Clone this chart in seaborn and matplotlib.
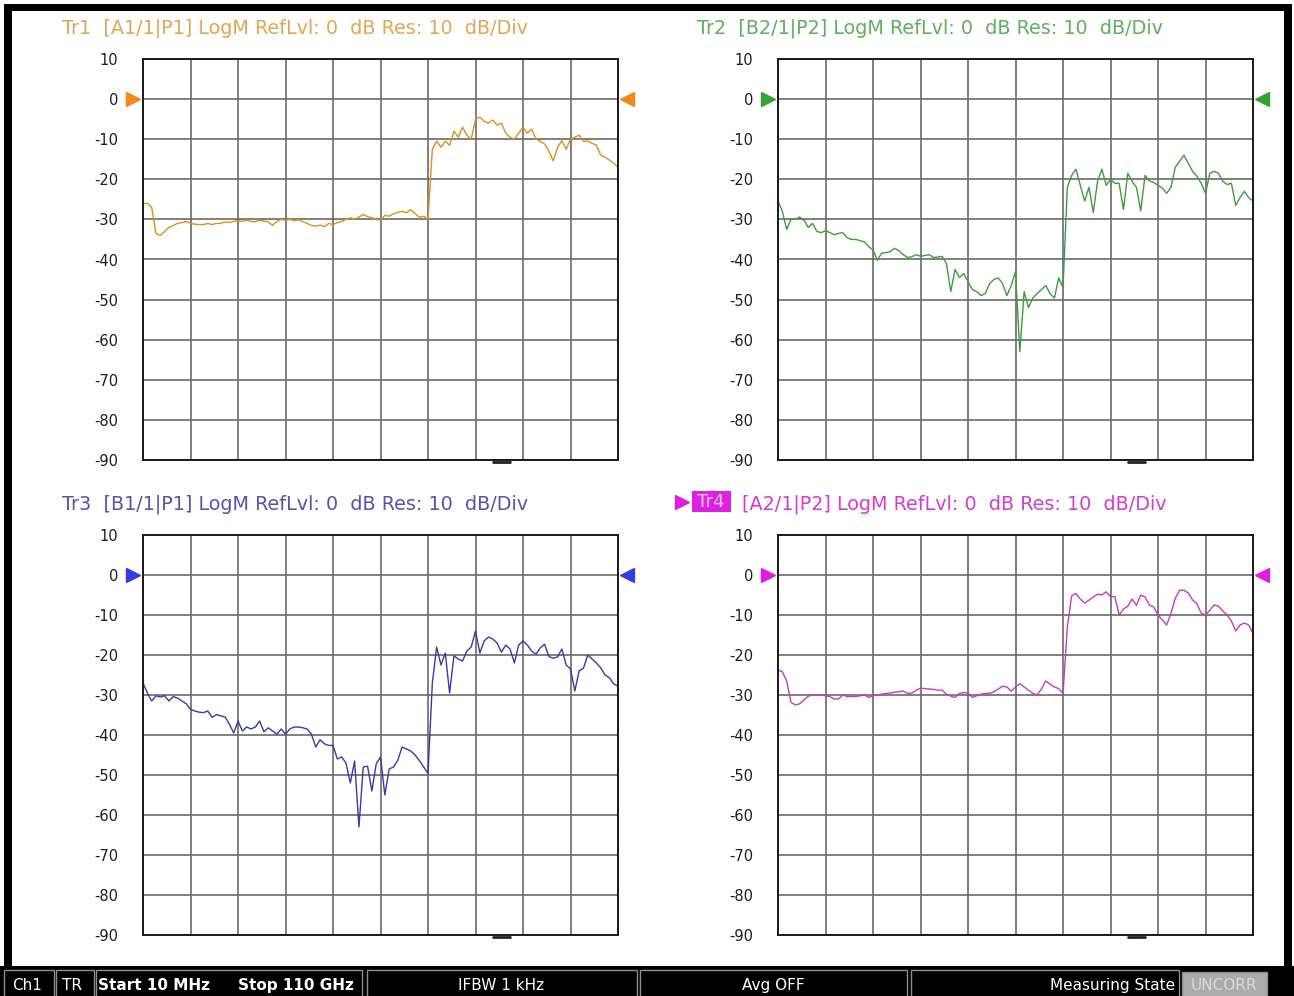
"""VNA four-trace screen (LogM, 10 dB/div) redrawn with seaborn."""

import numpy as np
import pandas as pd
import seaborn as sns
import matplotlib.pyplot as plt
from matplotlib.patches import Rectangle
from matplotlib.transforms import blended_transform_factory

W, H = 1294, 996

# sweep 10 MHz .. 110 GHz, values every ~1 GHz
freq_ghz = np.linspace(0.01, 110, 111)

tr1_db = [-26, -26, -27, -33.5, -34, -33, -32, -31.5, -31, -30.8,
          -30.5, -31, -31.2, -31.3, -31.3, -31.0, -31.3, -31, -31, -30.6,
          -30.8, -30.5, -30.3, -30.5, -30.2, -30.5, -30.6, -30.2, -30.4, -30.6,
          -31.5, -30.5, -30, -30.2, -30, -30.3, -30.1, -30.6, -31, -31.5,
          -31.7, -31.4, -31.8, -31, -31.3, -30.8, -30.5, -30, -29.6, -30,
          -29.4, -28.8, -29.3, -29.6, -30, -30.2, -29, -29.2, -28.6, -28.2,
          -28, -28.3, -27.6, -28.5, -29.5, -29.2, -30, -12.5, -10.5, -12,
          -10.5, -11.5, -8, -9.5, -7, -9, -10, -5, -4.5, -5.5,
          -6, -5.2, -6.5, -6, -8.5, -9.5, -10, -8.5, -7, -8.5,
          -7.5, -10, -10.5, -11.2, -13, -15.4, -12, -10.4, -12.5, -10,
          -9.5, -9, -10.5, -10.5, -11, -11.5, -14, -14.5, -15.2, -16,
          -17]

tr2_db = [-25.4, -28, -32.5, -30, -30, -29.4, -30.2, -32, -31, -33,
          -33.3, -32.8, -33.3, -33.8, -33.5, -33.3, -34.6, -35, -35, -35.3,
          -35.6, -36.8, -37.6, -40.2, -38.4, -38.3, -38, -37.2, -37.8, -38.8,
          -39.5, -39.3, -38.8, -39.2, -39, -38.8, -39.5, -39.4, -39.2, -41,
          -48, -42.5, -44.5, -43.5, -45.5, -47.5, -48, -49, -48.5, -46,
          -45, -44.6, -46, -49, -46.5, -43, -63, -48, -52, -49.6,
          -48.5, -47.5, -46.5, -48.5, -49.6, -44.6, -47, -22, -19, -17.5,
          -21.5, -25.4, -22, -28.3, -20.5, -17.5, -21.5, -20, -21, -21,
          -27.5, -18.5, -20.5, -22, -27.9, -19, -20.4, -20.8, -21.5, -22.2,
          -23.5, -22, -17, -15.5, -14, -16, -18, -19.2, -21, -23.5,
          -18.5, -18, -18.5, -20.5, -21.3, -21, -26.5, -24.5, -23, -24.6,
          -25.4]

tr3_db = [-27, -29.5, -31.5, -30.2, -30.5, -30.2, -31.5, -30.4, -30.8, -31.5,
          -32.2, -33.6, -34, -34.3, -34.4, -34, -35.6, -34.9, -35.2, -35.5,
          -37.3, -39.5, -36.5, -39, -38, -38.5, -38, -36.5, -39.2, -38.2,
          -39, -39.8, -38.5, -39.8, -38.5, -38, -38, -38.2, -38.5, -39.8,
          -43, -41.2, -42.2, -42.6, -42.6, -46, -45.5, -47, -52, -46.5,
          -63, -48, -47.8, -54, -47.2, -45.5, -55, -48.5, -48, -46.3,
          -43, -43.5, -44, -45, -46.4, -48, -49.6, -27, -18, -22.5,
          -19.5, -29.5, -20.2, -21, -21.5, -19, -18, -14, -19.5, -16.5,
          -15.5, -16, -17, -19.3, -17.5, -18.5, -22, -17.5, -16.5, -17.5,
          -19, -19.8, -18.2, -17.3, -20.4, -20.8, -20.5, -18.5, -22.5, -23.5,
          -29, -24, -23.3, -20, -21, -22, -23.2, -25, -25.7, -27.2,
          -27.8]

tr4_db = [-23.75, -24.2, -26.5, -31.8, -32.5, -32.2, -31.2, -30.3, -30, -30,
          -30, -30.2, -30.4, -31, -31, -30, -30.4, -30.4, -30.4, -30.2,
          -30, -30.6, -30.2, -30, -29.8, -29.6, -29.5, -29.3, -29.2, -29,
          -29.6, -29.5, -28.8, -28.3, -28.4, -28.5, -28.6, -28.8, -28.8, -29.8,
          -30.3, -30.6, -29.6, -29.4, -29.5, -30.6, -30.2, -29.8, -29.6, -29.6,
          -29.2, -28.5, -27.8, -28, -29, -28, -27.2, -28, -28.8, -29.6,
          -30, -28.5, -26.5, -27.3, -28, -28.4, -29.6, -13, -5.2, -4.6,
          -6, -7, -6.3, -5.5, -4.8, -5, -4.2, -5.4, -5.4, -10,
          -8.5, -7.8, -6, -7.6, -5, -5.5, -7.5, -8, -10, -11.2,
          -12.5, -9.6, -5.8, -3.8, -3.8, -4.5, -6.2, -7.2, -9.5, -10,
          -8.8, -7.5, -7.8, -9, -10, -11.5, -14, -12.5, -12, -12.5,
          -14.6]

y_ticks = list(range(-90, 11, 10))

# name, data, title rest, trace / title / marker colours, axes box in px (x0, y0, x1, y1), title x
PANELS = [
    ("Tr1", tr1_db, "[A1/1|P1] LogM RefLvl: 0  dB Res: 10  dB/Div",
     "#D8901E", "#E2A553", "#F0891A", (143, 59, 618, 460), 62),
    ("Tr2", tr2_db, "[B2/1|P2] LogM RefLvl: 0  dB Res: 10  dB/Div",
     "#3E9C3E", "#5DB05D", "#36A236", (778, 59, 1253, 460), 697),
    ("Tr3", tr3_db, "[B1/1|P1] LogM RefLvl: 0  dB Res: 10  dB/Div",
     "#3A3AA6", "#5454AE", "#3A3AE2", (143, 535, 618, 935), 62),
    ("Tr4", tr4_db, "[A2/1|P2] LogM RefLvl: 0  dB Res: 10  dB/Div",
     "#C23CC2", "#CF3ECF", "#E01CE0", (778, 535, 1253, 935), 742),
]

sns.set_style("white")
plt.rcParams["font.family"] = ["DejaVu Sans"]
plt.rcParams["axes.unicode_minus"] = False

fig = plt.figure(figsize=(W / 100, H / 100), dpi=100, facecolor="white")

# screen frame + status bar, drawn in pixel coordinates
bg = fig.add_axes([0, 0, 1, 1], zorder=-5)
bg.set_xlim(0, W)
bg.set_ylim(H, 0)
bg.axis("off")
for r in [(4, 4, 8, 962), (4, 4, 1288, 7), (1284, 4, 8, 962), (0, 966, W, 30)]:
    bg.add_patch(Rectangle(r[:2], r[2], r[3], color="black", lw=0))

boxes = [(4, 970, 50), (56, 970, 38), (96, 970, 266), (367, 970, 270),
         (640, 970, 267), (911, 970, 268)]
for x, y, w in boxes:
    bg.add_patch(Rectangle((x, y), w, 28, facecolor="black", edgecolor="#8c8c8c", lw=1))
bg.add_patch(Rectangle((1182, 972), 85, 26, facecolor="#ababab", edgecolor="#8c8c8c", lw=1))

sb = dict(color="white", fontsize=11, va="center")
bg.text(12, 985, "Ch1", **sb)
bg.text(62, 985, "TR", **sb)
bg.text(98, 985, "Start 10 MHz", fontweight="bold", **sb)
bg.text(238, 985, "Stop 110 GHz", fontweight="bold", **sb)
bg.text(501, 985, "IFBW 1 kHz", ha="center", **sb)
bg.text(773, 985, "Avg OFF", ha="center", **sb)
bg.text(1175, 985, "Measuring State", ha="right", **sb)
bg.text(1224, 985, "UNCORR", ha="center", color="#dcdcdc", fontsize=11, va="center")

for name, vals, rest, c_line, c_title, c_mark, (x0, y0, x1, y1), tx in PANELS:
    ax = fig.add_axes([x0 / W, 1 - y1 / H, (x1 - x0) / W, (y1 - y0) / H])
    df = pd.DataFrame({"freq": freq_ghz, "db": vals})
    sns.lineplot(data=df, x="freq", y="db", ax=ax, color=c_line, lw=1.0)

    ax.set_xlim(0, 110)
    ax.set_ylim(-90, 10)
    ax.set_xticks(np.arange(0, 111, 11))
    ax.set_xticklabels([])
    ax.set_yticks(y_ticks)
    ax.set_yticklabels([str(v) for v in y_ticks])
    ax.tick_params(length=0)
    ax.tick_params(axis="y", pad=18, labelsize=10.5, labelcolor="#1e1e1e")
    ax.grid(True, color="#6a6a6a", lw=1.2)
    ax.set_axisbelow(True)
    for s in ax.spines.values():
        s.set_color("#1a1a1a")
        s.set_linewidth(1.4)
    ax.set_xlabel("")
    ax.set_ylabel("")

    # reference level markers and stimulus dash
    trans = blended_transform_factory(ax.transAxes, ax.transData)
    ax.plot([-0.021], [0], marker=">", ms=10, color=c_mark, transform=trans, clip_on=False)
    ax.plot([1.019], [0], marker="<", ms=10, color=c_mark, transform=trans, clip_on=False)
    ax.plot([0.737, 0.772], [-0.006, -0.006], color="#222222", lw=2,
            transform=ax.transAxes, clip_on=False)

    base = y0 - 26
    if name == "Tr4":
        bg.plot([682], [base - 7], marker=">", ms=10, color=c_mark)
        bg.add_patch(Rectangle((692, base - 18), 39, 21, color="#E020E0", lw=0))
        bg.text(711, base - 7, "Tr4", color="#F6C8F6", fontsize=13, ha="center", va="center")
        bg.text(tx, base, rest, color=c_title, fontsize=13.8, va="baseline")
    else:
        bg.text(tx, base, name + "  " + rest, color=c_title, fontsize=13.8, va="baseline")

fig.savefig("out.png", dpi=100, facecolor="white")
